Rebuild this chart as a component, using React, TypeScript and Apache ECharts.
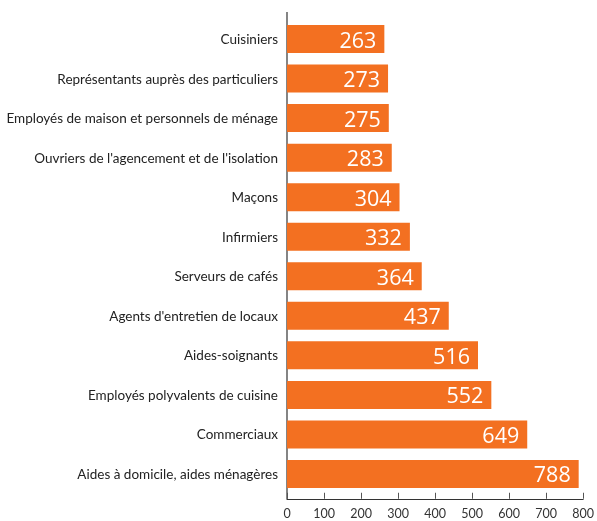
import React, { useEffect, useRef } from "react";
import * as echarts from "echarts";

const categories = [
  "Cuisiniers",
  "Représentants auprès des particuliers",
  "Employés de maison et personnels de ménage",
  "Ouvriers de l'agencement et de l'isolation",
  "Maçons",
  "Infirmiers",
  "Serveurs de cafés",
  "Agents d'entretien de locaux",
  "Aides-soignants",
  "Employés polyvalents de cuisine",
  "Commerciaux",
  "Aides à domicile, aides ménagères",
];
const values = [263, 273, 275, 283, 304, 332, 364, 437, 516, 552, 649, 788];

export default function App() {
  const ref = useRef<HTMLDivElement>(null);
  useEffect(() => {
    if (!ref.current) return;
    document.body.style.margin = "0";
    document.body.style.overflow = "hidden";
    document.documentElement.style.overflow = "hidden";
    const chart = echarts.init(ref.current, null, { renderer: "svg", width: 597, height: 521 });
    const font = "'Open Sans', 'DejaVu Sans', sans-serif";
    const labelFont = "Lato, 'Open Sans', sans-serif";
    chart.setOption({
      animation: false,
      grid: { left: 287, right: 11, top: 19.25, height: 474.5, containLabel: false },
      xAxis: {
        type: "value",
        min: 0,
        max: 800,
        interval: 100,
        offset: 5,
        axisLine: { show: true, lineStyle: { color: "#333", width: 1.2 } },
        axisTick: { show: true, inside: true, length: 6, lineStyle: { color: "#555" } },
        axisLabel: { color: "#333", fontSize: 12.5, margin: 8, fontFamily: labelFont },
        splitLine: { show: false },
      },
      yAxis: {
        type: "category",
        data: categories,
        inverse: true,
        axisLine: { show: false },
        axisTick: { show: false },
        axisLabel: { color: "#222", fontSize: 13.5, margin: 9, fontFamily: labelFont },
      },
      graphic: [
        {
          type: "line",
          shape: { x1: 287, y1: 12, x2: 287, y2: 499 },
          style: { stroke: "#333", lineWidth: 1.2 },
        },
      ],
      series: [
        {
          type: "bar",
          data: values,
          barWidth: 28,
          itemStyle: { color: "#F37021" },
          label: {
            show: true,
            position: "insideRight",
            distance: 8,
            color: "#fff",
            fontSize: 21.5,
            fontFamily: font,
          },
        },
      ],
    });
    return () => chart.dispose();
  }, []);
  return <div ref={ref} style={{ width: 597, height: 521, position: "fixed", left: 0, top: 0 }} />;
}
